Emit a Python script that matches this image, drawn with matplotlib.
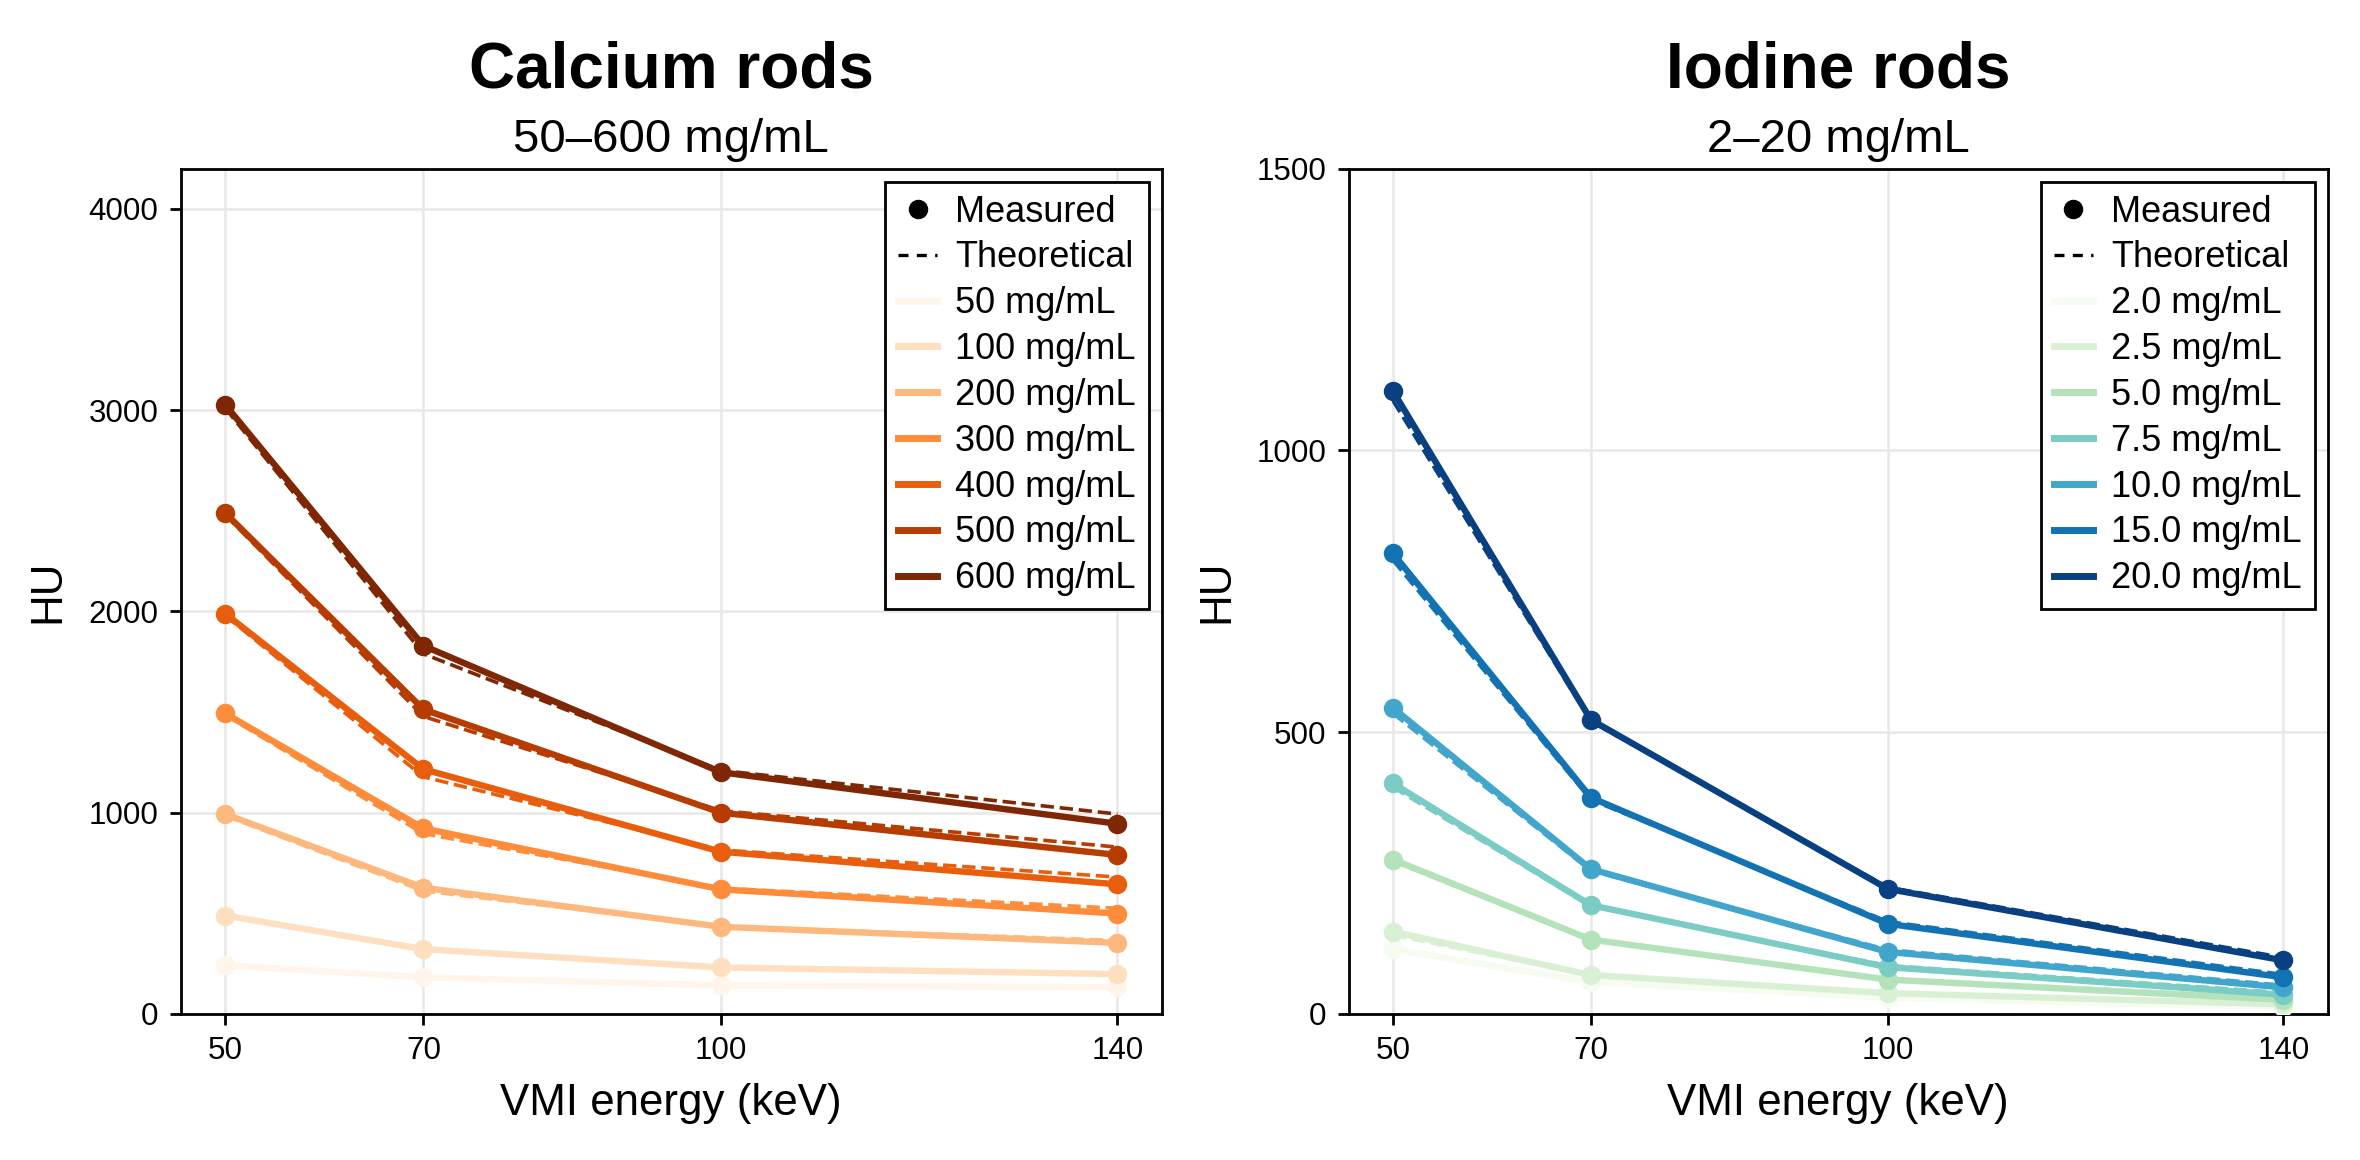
import numpy as np
import matplotlib
matplotlib.use("Agg")
import matplotlib.pyplot as plt
from matplotlib.lines import Line2D

plt.rcParams['font.family'] = ['Liberation Sans', 'DejaVu Sans']

energies = [50, 70, 100, 140]

# calcium rods (HU)
ca_labels = ['50 mg/mL', '100 mg/mL', '200 mg/mL', '300 mg/mL', '400 mg/mL', '500 mg/mL', '600 mg/mL']
ca_measured = [
    [242, 182, 142, 132],
    [489, 322, 231, 198],
    [993, 627, 433, 353],
    [1493, 922, 619, 499],
    [1989, 1216, 806, 644],
    [2489, 1513, 1000, 790],
    [3027, 1829, 1201, 945],
]
ca_theory = [
    [240, 178, 140, 135],
    [485, 318, 230, 200],
    [985, 611, 435, 365],
    [1485, 896, 625, 525],
    [1980, 1178, 815, 680],
    [2480, 1478, 1010, 829],
    [3010, 1789, 1210, 993],
]

# iodine rods (HU)
io_labels = ['2.0 mg/mL', '2.5 mg/mL', '5.0 mg/mL', '7.5 mg/mL', '10.0 mg/mL', '15.0 mg/mL', '20.0 mg/mL']
io_measured = [
    [115, 57, 29, 12],
    [146, 69, 37, 17],
    [274, 132, 61, 25],
    [409, 193, 83, 34],
    [543, 257, 110, 47],
    [817, 384, 160, 65],
    [1105, 522, 222, 95],
]
io_theory = [
    [113, 56, 30, 14],
    [140, 68, 38, 19],
    [271, 130, 63, 28],
    [402, 191, 86, 38],
    [533, 254, 114, 51],
    [805, 380, 164, 70],
    [1088, 519, 225, 100],
]

fig = plt.figure(figsize=(11.8, 5.8), dpi=200)
ax1 = fig.add_axes([0.0765, 0.1259, 0.4159, 0.7288])
ax2 = fig.add_axes([0.5714, 0.1259, 0.4150, 0.7288])


def panel(ax, meas, theo, labels, cmap, title, subtitle, ylim, yticks):
    colors = [cmap(v) for v in np.linspace(0.0, 1.0, len(labels))]
    for i in range(len(labels)):
        ax.plot(energies, theo[i], '--', color=colors[i], lw=1.3, zorder=2)
    for i in range(len(labels)):
        ax.plot(energies, meas[i], '-o', color=colors[i], lw=2.3, ms=6, zorder=3)
    ax.set_xlim(45.5, 144.5)
    ax.set_ylim(*ylim)
    ax.set_xticks(energies)
    ax.set_yticks(yticks)
    ax.grid(True, color='#e8e8e8', lw=0.9)
    ax.set_axisbelow(True)
    ax.tick_params(direction='out', length=4, width=1, labelsize=11.3, pad=4)
    for s in ax.spines.values():
        s.set_linewidth(1)
    ax.set_xlabel('VMI energy (keV)', fontsize=15.8, labelpad=6)
    ax.set_ylabel('HU', fontsize=15.8, labelpad=7)
    ax.set_title(subtitle, fontsize=17, pad=6)
    ax.text(0.5, 1.116, title, transform=ax.transAxes, ha='center', va='center',
            fontsize=23, fontweight='bold')
    handles = [Line2D([], [], ls='none', marker='o', color='black', ms=6),
               Line2D([], [], ls='--', color='black', lw=1.2, dashes=(3, 2.5))]
    handles += [Line2D([], [], color=c, lw=2.5) for c in colors]
    leg = ax.legend(handles, ['Measured', 'Theoretical'] + labels, loc='upper right',
                    fontsize=13, frameon=True, fancybox=False, handlelength=1.1,
                    handletextpad=0.5, labelspacing=0.3, borderpad=0.35,
                    borderaxespad=0.37)
    leg.get_frame().set_edgecolor('black')
    leg.get_frame().set_linewidth(1)
    leg.get_frame().set_alpha(1)


panel(ax1, ca_measured, ca_theory, ca_labels, plt.cm.Oranges,
      'Calcium rods', '50–600 mg/mL', (0, 4200), [0, 1000, 2000, 3000, 4000])
panel(ax2, io_measured, io_theory, io_labels, plt.cm.GnBu,
      'Iodine rods', '2–20 mg/mL', (0, 1500), [0, 500, 1000, 1500])

fig.savefig('out.png', dpi=200)
